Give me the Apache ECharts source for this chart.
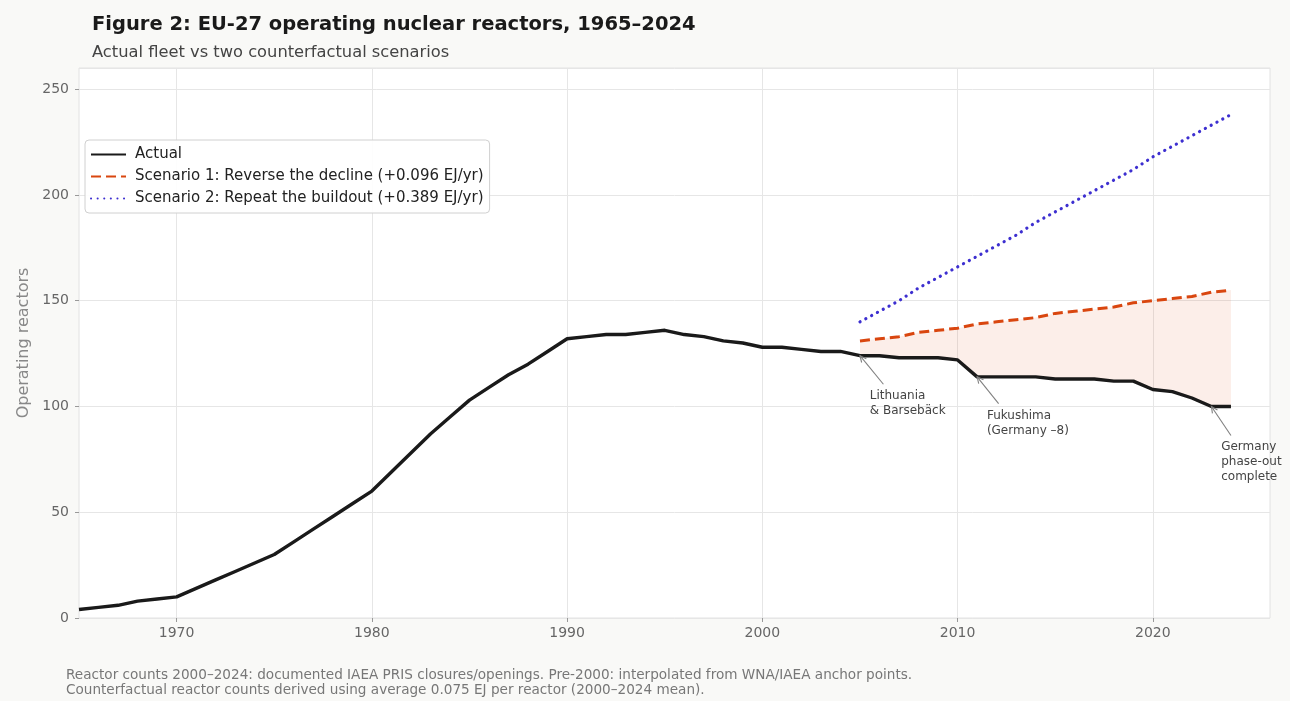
<!DOCTYPE html>
<html><head><meta charset="utf-8">
<script src="https://cdn.jsdelivr.net/npm/echarts@6/dist/echarts.min.js"></script>
<style>html,body{margin:0;padding:0;background:#f9f9f7}#c{width:1290px;height:701px}</style>
</head><body><div id="c"></div><script>
// ---------- data ----------
const years = [1965,1966,1967,1968,1969,1970,1971,1972,1973,1974,1975,1976,1977,1978,1979,1980,1981,1982,1983,1984,1985,1986,1987,1988,1989,1990,1991,1992,1993,1994,1995,1996,1997,1998,1999,2000,2001,2002,2003,2004,2005,2006,2007,2008,2009,2010,2011,2012,2013,2014,2015,2016,2017,2018,2019,2020,2021,2022,2023,2024];
const actual = [4,5,6,8,9,10,14,18,22,26,30,36,42,48,54,60,69,78,87,95,103,109,115,120,126,132,133,134,134,135,136,134,133,131,130,128,128,127,126,126,124,124,123,123,123,122,114,114,114,114,113,113,113,112,112,108,107,104,100,100];
const scenarioYears = [2005,2006,2007,2008,2009,2010,2011,2012,2013,2014,2015,2016,2017,2018,2019,2020,2021,2022,2023,2024];
const scenario1 = [131,132,133,135,136,137,139,140,141,142,144,145,146,147,149,150,151,152,154,155];
const scenario2 = [140,145,150,156,161,166,171,176,181,187,192,197,202,207,212,218,223,228,233,238];
const xTickLabels = [1970,1980,1990,2000,2010,2020];
const seriesNames = ['Actual','Scenario 1: Reverse the decline (+0.096 EJ/yr)','Scenario 2: Repeat the buildout (+0.389 EJ/yr)'];
const titleText = 'Figure 2: EU-27 operating nuclear reactors, 1965–2024';
const subtitleText = 'Actual fleet vs two counterfactual scenarios';
const yAxisName = 'Operating reactors';
const footnoteLines = ['Reactor counts 2000–2024: documented IAEA PRIS closures/openings. Pre-2000: interpolated from WNA/IAEA anchor points.','Counterfactual reactor counts derived using average 0.075 EJ per reactor (2000–2024 mean).'];
const annotationTexts = ['Lithuania\n& Barsebäck','Fukushima\n(Germany –8)','Germany\nphase-out\ncomplete'];
const annotationPoints = [[2005,124],[2011,114],[2023,100]];

// ---------- layout (data-space anchors for annotation text/arrow tails) ----------
const annotationTails = [[2006.2,110.5],[2012.1,101.3],[2024.0,86.3]];
const annotationTextAnchors = [[2005.5,108.6],[2011.5,99.0],[2023.5,84.6]];

const FONT = 'DejaVu Sans';
const chart = echarts.init(document.getElementById('c'), null, {renderer:'canvas'});

const actualData = years.map((y,i)=>[y, actual[i]]);
const s1Data = scenarioYears.map((y,i)=>[y, scenario1[i]]);
const s2Data = scenarioYears.map((y,i)=>[y, scenario2[i]]);
const fillData = scenarioYears.map((y,i)=>[y, scenario1[i], actual[years.indexOf(y)]]);

const option = {
  backgroundColor: '#f9f9f7',
  animation: false,
  textStyle: {fontFamily: FONT},
  title: {
    text: titleText, subtext: subtitleText,
    left: 87, top: 10, itemGap: 10,
    textStyle: {fontFamily: FONT, fontSize: 19.5, fontWeight: 'bold', color: '#1a1a1a'},
    subtextStyle: {fontFamily: FONT, fontSize: 16.3, color: '#444'}
  },
  grid: {left: 79, right: 20, top: 68, bottom: 83, show: true, backgroundColor: '#ffffff', borderColor: '#e2e2e2', borderWidth: 1},
  legend: {
    data: seriesNames, orient: 'vertical', left: 85, top: 140,
    backgroundColor: 'rgba(255,255,255,0.9)', borderColor: '#d0d0d0', borderWidth: 1, borderRadius: 4,
    padding: [7, 6, 7, 5], itemGap: 7, itemWidth: 35, itemHeight: 15,
    itemStyle: {opacity: 0},
    textStyle: {fontFamily: FONT, fontSize: 15, color: '#222', padding: [0, 0, 0, 4]}
  },
  xAxis: {
    type: 'value', min: 1965, max: 2026,
    axisLine: {show: false},
    axisTick: {show: true, length: 4, lineStyle: {color: '#999'}, customValues: xTickLabels},
    axisLabel: {fontFamily: FONT, fontSize: 14, color: '#666', margin: 8, customValues: xTickLabels, formatter: v => String(v)},
    splitLine: {show: true, lineStyle: {color: '#e6e6e6', width: 1}}
  },
  yAxis: {
    type: 'value', min: 0, max: 260, interval: 50,
    name: yAxisName, nameLocation: 'middle', nameGap: 45,
    nameTextStyle: {fontFamily: FONT, fontSize: 16, color: '#888'},
    axisLine: {show: false},
    axisTick: {show: true, length: 4, lineStyle: {color: '#999'}},
    axisLabel: {fontFamily: FONT, fontSize: 14, color: '#666', margin: 10, showMaxLabel: false},
    splitLine: {show: true, lineStyle: {color: '#e6e6e6', width: 1}}
  },
  series: [
    {
      type: 'custom', name: 'gap', silent: true, z: 1,
      encode: {x: 0, y: 1},
      data: fillData,
      renderItem: function (params, api) {
        if (params.dataIndex !== 0) return null;
        const top = fillData.map(d => api.coord([d[0], d[1]]));
        const bottom = fillData.slice().reverse().map(d => api.coord([d[0], d[2]]));
        return {type: 'polygon', shape: {points: top.concat(bottom)}, style: {fill: 'rgba(230,90,40,0.10)'}, silent: true};
      }
    },
    {
      type: 'line', name: seriesNames[0], data: actualData, symbol: 'none', z: 5,
      lineStyle: {color: '#1a1a1a', width: 3.4, join: 'round'}, itemStyle: {color: '#1a1a1a'}
    },
    {
      type: 'line', name: seriesNames[1], data: s1Data, symbol: 'none', z: 4,
      lineStyle: {color: '#d9460f', width: 3, type: [10, 5]}, itemStyle: {color: '#d9460f'}
    },
    {
      type: 'line', name: seriesNames[2], data: s2Data, symbol: 'none', z: 4,
      lineStyle: {color: '#3d2fd0', width: 3.2, type: [0.1, 6.5], cap: 'round'}, itemStyle: {color: '#3d2fd0'}
    }
  ]
};
chart.setOption(option);

// ---------- annotations + footnote ----------
const g = [];
annotationPoints.forEach((pt, i) => {
  const tip = chart.convertToPixel({gridIndex: 0}, pt);
  const tail = chart.convertToPixel({gridIndex: 0}, annotationTails[i]);
  const tp = chart.convertToPixel({gridIndex: 0}, annotationTextAnchors[i]);
  const ang = Math.atan2(tip[1] - tail[1], tip[0] - tail[0]);
  const hl = 7, ha = 0.45;
  const h1 = [tip[0] - hl * Math.cos(ang - ha), tip[1] - hl * Math.sin(ang - ha)];
  const h2 = [tip[0] - hl * Math.cos(ang + ha), tip[1] - hl * Math.sin(ang + ha)];
  g.push({type: 'line', silent: true, z: 10, shape: {x1: tail[0], y1: tail[1], x2: tip[0], y2: tip[1]}, style: {stroke: '#808080', lineWidth: 1.1}});
  g.push({type: 'polyline', silent: true, z: 10, shape: {points: [h1, tip, h2]}, style: {stroke: '#808080', lineWidth: 1.1, fill: null}});
  g.push({type: 'text', silent: true, z: 10, x: tp[0], y: tp[1],
    style: {text: annotationTexts[i], font: '12px "DejaVu Sans"', fill: '#444', lineHeight: 15, textAlign: 'left', textVerticalAlign: 'top'}});
});
footnoteLines.forEach((t, i) => {
  g.push({type: 'text', silent: true, left: 66, top: 668 + i * 15,
    style: {text: t, font: '13.6px "DejaVu Sans"', fill: '#777'}});
});
chart.setOption({graphic: g});
</script></body></html>
